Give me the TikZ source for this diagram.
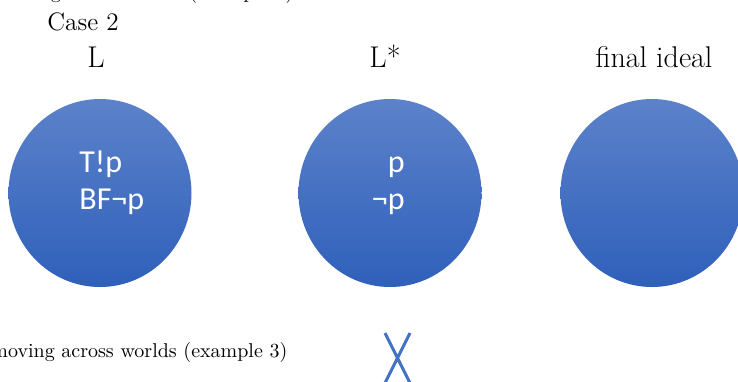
\documentclass[tikz,border=0pt]{standalone}
\usepackage{fontspec}
\newfontfamily\worldfont{Carlito}
\usepackage{tikz}
\definecolor{wtop}{RGB}{92,130,202}
\definecolor{wbot}{RGB}{47,96,186}
\definecolor{xcol}{RGB}{68,114,196}

\tikzset{
  world/.style={top color=wtop,bottom color=wbot,draw=none},
  wtext/.style={white,inner sep=0pt,font=\worldfont\fontsize{16}{19}\selectfont},
  head/.style={inner sep=0pt,anchor=base,font=\fontsize{15}{18}\selectfont},
  note/.style={inner sep=0pt,anchor=base west,font=\fontsize{10}{12}\selectfont}
}

\begin{document}
\begin{tikzpicture}[x=0.5pt,y=-0.5pt]
  \useasboundingbox (0,0) rectangle (738,381);
  \clip (0,0) rectangle (738,381);
  % worlds
  \coordinate (wL) at (100,193);
  \coordinate (wLs) at (390,193);
  \coordinate (wF) at (652,193);
  \foreach \w in {wL,wLs,wF}
    \shade[world] (\w) ellipse [x radius=91.5,y radius=94];
  \node[wtext,anchor=base west] (tp) at (79,172) {T!p};
  \node[wtext,anchor=base west] (bfp) at (79,209) {BF¬p};
  \node[wtext,anchor=base east] (p) at (405,172) {p};
  \node[wtext,anchor=base east] (np) at (405,209) {¬p};
  % headings
  \node[note] (top) at (-3,-2) {moving across worlds (example 2)};
  \node[head,anchor=base west,font=\fontsize{12.6}{15}\selectfont] (case) at (47,30) {Case 2};
  \node[head] (hL) at (96,67) {L};
  \node[head] (hLs) at (385,67) {L*};
  \node[head] (hF) at (654,67) {final ideal};
  \node[note] (bot) at (-9,357) {moving across worlds (example 3)};
  \draw[xcol,line width=1.5pt] (385,333) -- (410,383) (410,333) -- (385,383);
\end{tikzpicture}
\end{document}
